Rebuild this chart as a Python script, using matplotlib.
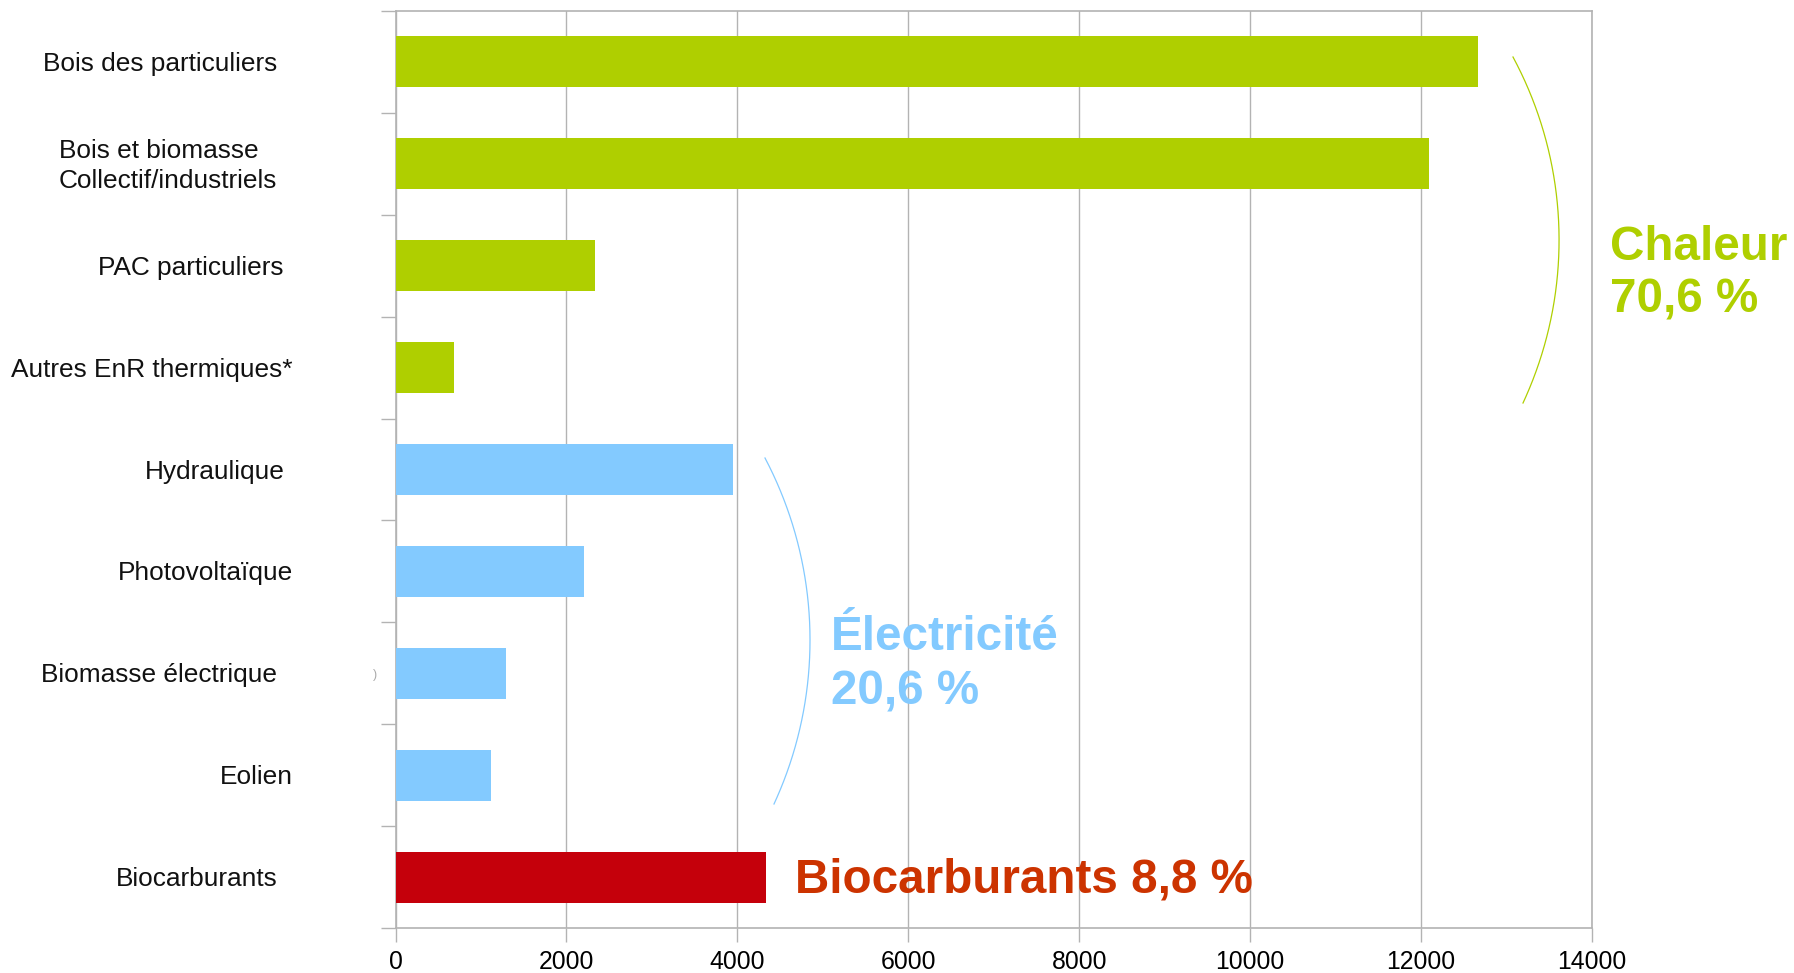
import numpy as np
import matplotlib
matplotlib.use("Agg")
import matplotlib.pyplot as plt
from matplotlib.lines import Line2D
from matplotlib.transforms import blended_transform_factory

# ---------------- data ----------------
categories = [
    "Bois des particuliers",
    "Bois et biomasse\nCollectif/industriels",
    "PAC particuliers",
    "Autres EnR thermiques*",
    "Hydraulique",
    "Photovoltaïque",
    "Biomasse électrique",
    "Eolien",
    "Biocarburants",
]
values = [12670, 12090, 2330, 690, 3950, 2200, 1290, 1115, 4330]
groups = ["chaleur"] * 4 + ["elec"] * 4 + ["bio"]
xticks = [0, 2000, 4000, 6000, 8000, 10000, 12000, 14000]
group_labels = {
    "chaleur": ["Chaleur", "70,6 %"],
    "elec": ["Électricité", "20,6 %"],
    "bio": ["Biocarburants 8,8 %"],
}

# ---------------- style ----------------
W, H = 1794, 973
bar_colors = {"chaleur": "#AFCF00", "elec": "#83CAFF", "bio": "#C5000B"}
text_colors = {"chaleur": "#AFCF00", "elec": "#83CAFF", "bio": "#CC3300"}
grid_color = "#b3b3b3"
plt.rcParams["font.family"] = ["Liberation Sans", "DejaVu Sans"]

fig = plt.figure(figsize=(W / 100, H / 100), dpi=100)
ax_left, ax_right, ax_top, ax_bot = 395.5, 1592, 11, 928
ax = fig.add_axes([ax_left / W, 1 - ax_bot / H, (ax_right - ax_left) / W, (ax_bot - ax_top) / H])

y = np.arange(len(categories))
ax.barh(y, values, height=0.5, color=[bar_colors[g] for g in groups], zorder=3)
ax.set_ylim(len(categories) - 0.5, -0.5)
ax.set_xlim(0, 14000)

ax.set_xticks(xticks)
ax.set_xticklabels([str(t) for t in xticks], fontsize=17.8)
ax.tick_params(axis="x", length=10, width=1, color=grid_color, pad=6)
ax.xaxis.grid(True, color=grid_color, linewidth=1, zorder=0)

ax.set_yticks(y)
ax.set_yticklabels([""] * len(categories))
ax.tick_params(axis="y", which="major", length=0)
ax.set_yticks(np.arange(-0.5, len(categories) + 0.5, 1), minor=True)
ax.tick_params(axis="y", which="minor", length=11, width=1, color=grid_color)

for s in ax.spines.values():
    s.set_color(grid_color)
    s.set_linewidth(1.2)

# category labels (right edges in pixels)
label_right_px = [277, 277, 283, 292, 285, 293, 277, 293, 278]
tr = blended_transform_factory(fig.transFigure, ax.transData)
for i, (lab, rx) in enumerate(zip(categories, label_right_px)):
    ax.text(rx / W, i + 0.02, lab, transform=tr, ha="right", va="center",
            multialignment="left", fontsize=18.9, linespacing=1.3,
            color="#111111", clip_on=False)

# small stray mark
fig.text(375.5 / W, 1 - 675 / H, ")", fontsize=9, color="#aaaaaa", ha="center", va="center")


def px(xp, yp):
    return xp / W, 1 - yp / H


def arc(p0, p1, p2, color):
    (x1, y1), (x2, y2), (x3, y3) = p0, p1, p2
    d = 2 * (x1 * (y2 - y3) + x2 * (y3 - y1) + x3 * (y1 - y2))
    ux = ((x1**2 + y1**2) * (y2 - y3) + (x2**2 + y2**2) * (y3 - y1) + (x3**2 + y3**2) * (y1 - y2)) / d
    uy = ((x1**2 + y1**2) * (x3 - x2) + (x2**2 + y2**2) * (x1 - x3) + (x3**2 + y3**2) * (x2 - x1)) / d
    r = np.hypot(x1 - ux, y1 - uy)
    a0 = np.arctan2(y1 - uy, x1 - ux)
    a2 = np.arctan2(y3 - uy, x3 - ux)
    t = np.linspace(a0, a2, 200)
    xs = ux + r * np.cos(t)
    ys = uy + r * np.sin(t)
    fig.add_artist(Line2D(xs / W, 1 - ys / H, transform=fig.transFigure, color=color, linewidth=0.9))


arc((1513, 57), (1559, 233), (1523, 403), bar_colors["chaleur"])
arc((765, 458), (810, 637), (774, 804), bar_colors["elec"])

fs_big = 34.3
# Chaleur
fig.text(*px(1610, 260), group_labels["chaleur"][0], fontsize=fs_big, fontweight="bold",
         color=text_colors["chaleur"], va="baseline", ha="left")
fig.text(*px(1610, 313), group_labels["chaleur"][1], fontsize=fs_big, fontweight="bold",
         color=text_colors["chaleur"], va="baseline", ha="left")
# Electricite
fig.text(*px(831, 650), group_labels["elec"][0], fontsize=fs_big, fontweight="bold",
         color=text_colors["elec"], va="baseline", ha="left")
fig.text(*px(831, 705), group_labels["elec"][1], fontsize=fs_big, fontweight="bold",
         color=text_colors["elec"], va="baseline", ha="left")
# Biocarburants
fig.text(*px(795, 892), group_labels["bio"][0], fontsize=fs_big, fontweight="bold",
         color=text_colors["bio"], va="baseline", ha="left")

fig.savefig("out.png", dpi=100, facecolor="white")
